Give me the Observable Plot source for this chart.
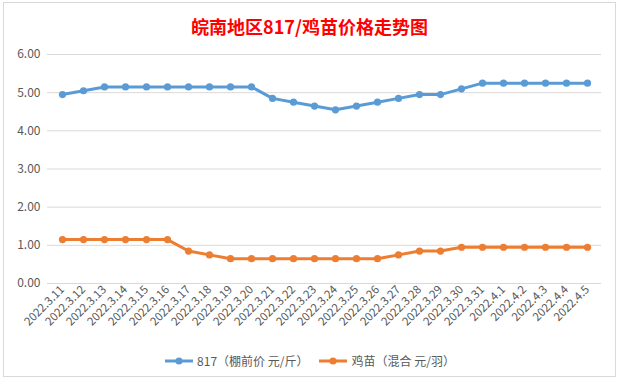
<!DOCTYPE html>
<html><head><meta charset="utf-8">
<script src="https://cdn.jsdelivr.net/npm/d3@7"></script>
<script src="https://cdn.jsdelivr.net/npm/@observablehq/plot@0.6"></script>
<style>
body{margin:0;background:#fff;font-family:"Noto Sans CJK SC","Noto Sans",sans-serif;}
#frame{position:absolute;left:3px;top:2px;width:613px;height:375px;border:1px solid #d9d9d9;box-sizing:border-box;}
#title{position:absolute;left:0;top:15px;width:619px;text-align:center;white-space:nowrap;color:#ff0000;font-weight:bold;font-size:18px;line-height:22px;}
#chart{position:absolute;left:0;top:45px;}
#legend{position:absolute;left:0;top:352px;width:619px;display:flex;justify-content:center;gap:10px;font-size:12px;color:#595959;line-height:18px;}
.li{display:flex;align-items:center;gap:3px;}
</style></head>
<body>
<div id="frame"></div>
<div id="title">皖南地区817/鸡苗价格走势图</div>
<div id="chart"></div>
<div id="legend"></div>
<script>
const dates = ["2022.3.11","2022.3.12","2022.3.13","2022.3.14","2022.3.15","2022.3.16","2022.3.17","2022.3.18","2022.3.19","2022.3.20","2022.3.21","2022.3.22","2022.3.23","2022.3.24","2022.3.25","2022.3.26","2022.3.27","2022.3.28","2022.3.29","2022.3.30","2022.3.31","2022.4.1","2022.4.2","2022.4.3","2022.4.4","2022.4.5"];
const price817 = [4.95,5.05,5.15,5.15,5.15,5.15,5.15,5.15,5.15,5.15,4.85,4.75,4.65,4.55,4.65,4.75,4.85,4.95,4.95,5.10,5.25,5.25,5.25,5.25,5.25,5.25];
const chick = [1.15,1.15,1.15,1.15,1.15,1.15,0.85,0.75,0.65,0.65,0.65,0.65,0.65,0.65,0.65,0.65,0.75,0.85,0.85,0.95,0.95,0.95,0.95,0.95,0.95,0.95];
const seriesNames = ["817（棚前价 元/斤）","鸡苗（混合 元/羽）"];
const colors = ["#5b9bd5","#ed7d31"];
const yTicks = [0,1,2,3,4,5,6];

const rows = [];
dates.forEach((d,i)=>{
  rows.push({date:d, value:price817[i], series:seriesNames[0]});
  rows.push({date:d, value:chick[i], series:seriesNames[1]});
});

const chart = Plot.plot({
  width: 619, height: 300,
  marginLeft: 47, marginRight: 18, marginTop: 9, marginBottom: 62,
  style: {fontFamily: '"Noto Sans CJK SC","Noto Sans",sans-serif', color:"#595959", background:"transparent"},
  x: {type:"point", domain: dates, padding: 0.5, label: null},
  y: {domain:[0,6], label: null},
  color: {domain: seriesNames, range: colors},
  marks: [
    Plot.gridY(yTicks, {stroke:"#d9d9d9", strokeOpacity:1}),
    Plot.axisY(yTicks, {tickSize:0, tickPadding:7, tickFormat: d3.format(".2f"), fontSize:12, fill:"#595959"}),
    Plot.axisX({tickSize:0, tickPadding:4, tickRotate:-45, fontSize:11.5, fill:"#595959"}),
    Plot.line(rows, {x:"date", y:"value", stroke:"series", strokeWidth:3}),
    Plot.dot(rows, {x:"date", y:"value", fill:"series", r:3.6})
  ]
});
document.getElementById("chart").appendChild(chart);

const lg = document.getElementById("legend");
seriesNames.forEach((n,i)=>{
  const item = document.createElement("div"); item.className="li";
  item.innerHTML = `<svg width="30" height="10"><line x1="1" x2="29" y1="5" y2="5" stroke="${colors[i]}" stroke-width="3"/><circle cx="15" cy="5" r="3.6" fill="${colors[i]}"/></svg><span>${n}</span>`;
  lg.appendChild(item);
});
</script>
</body></html>
